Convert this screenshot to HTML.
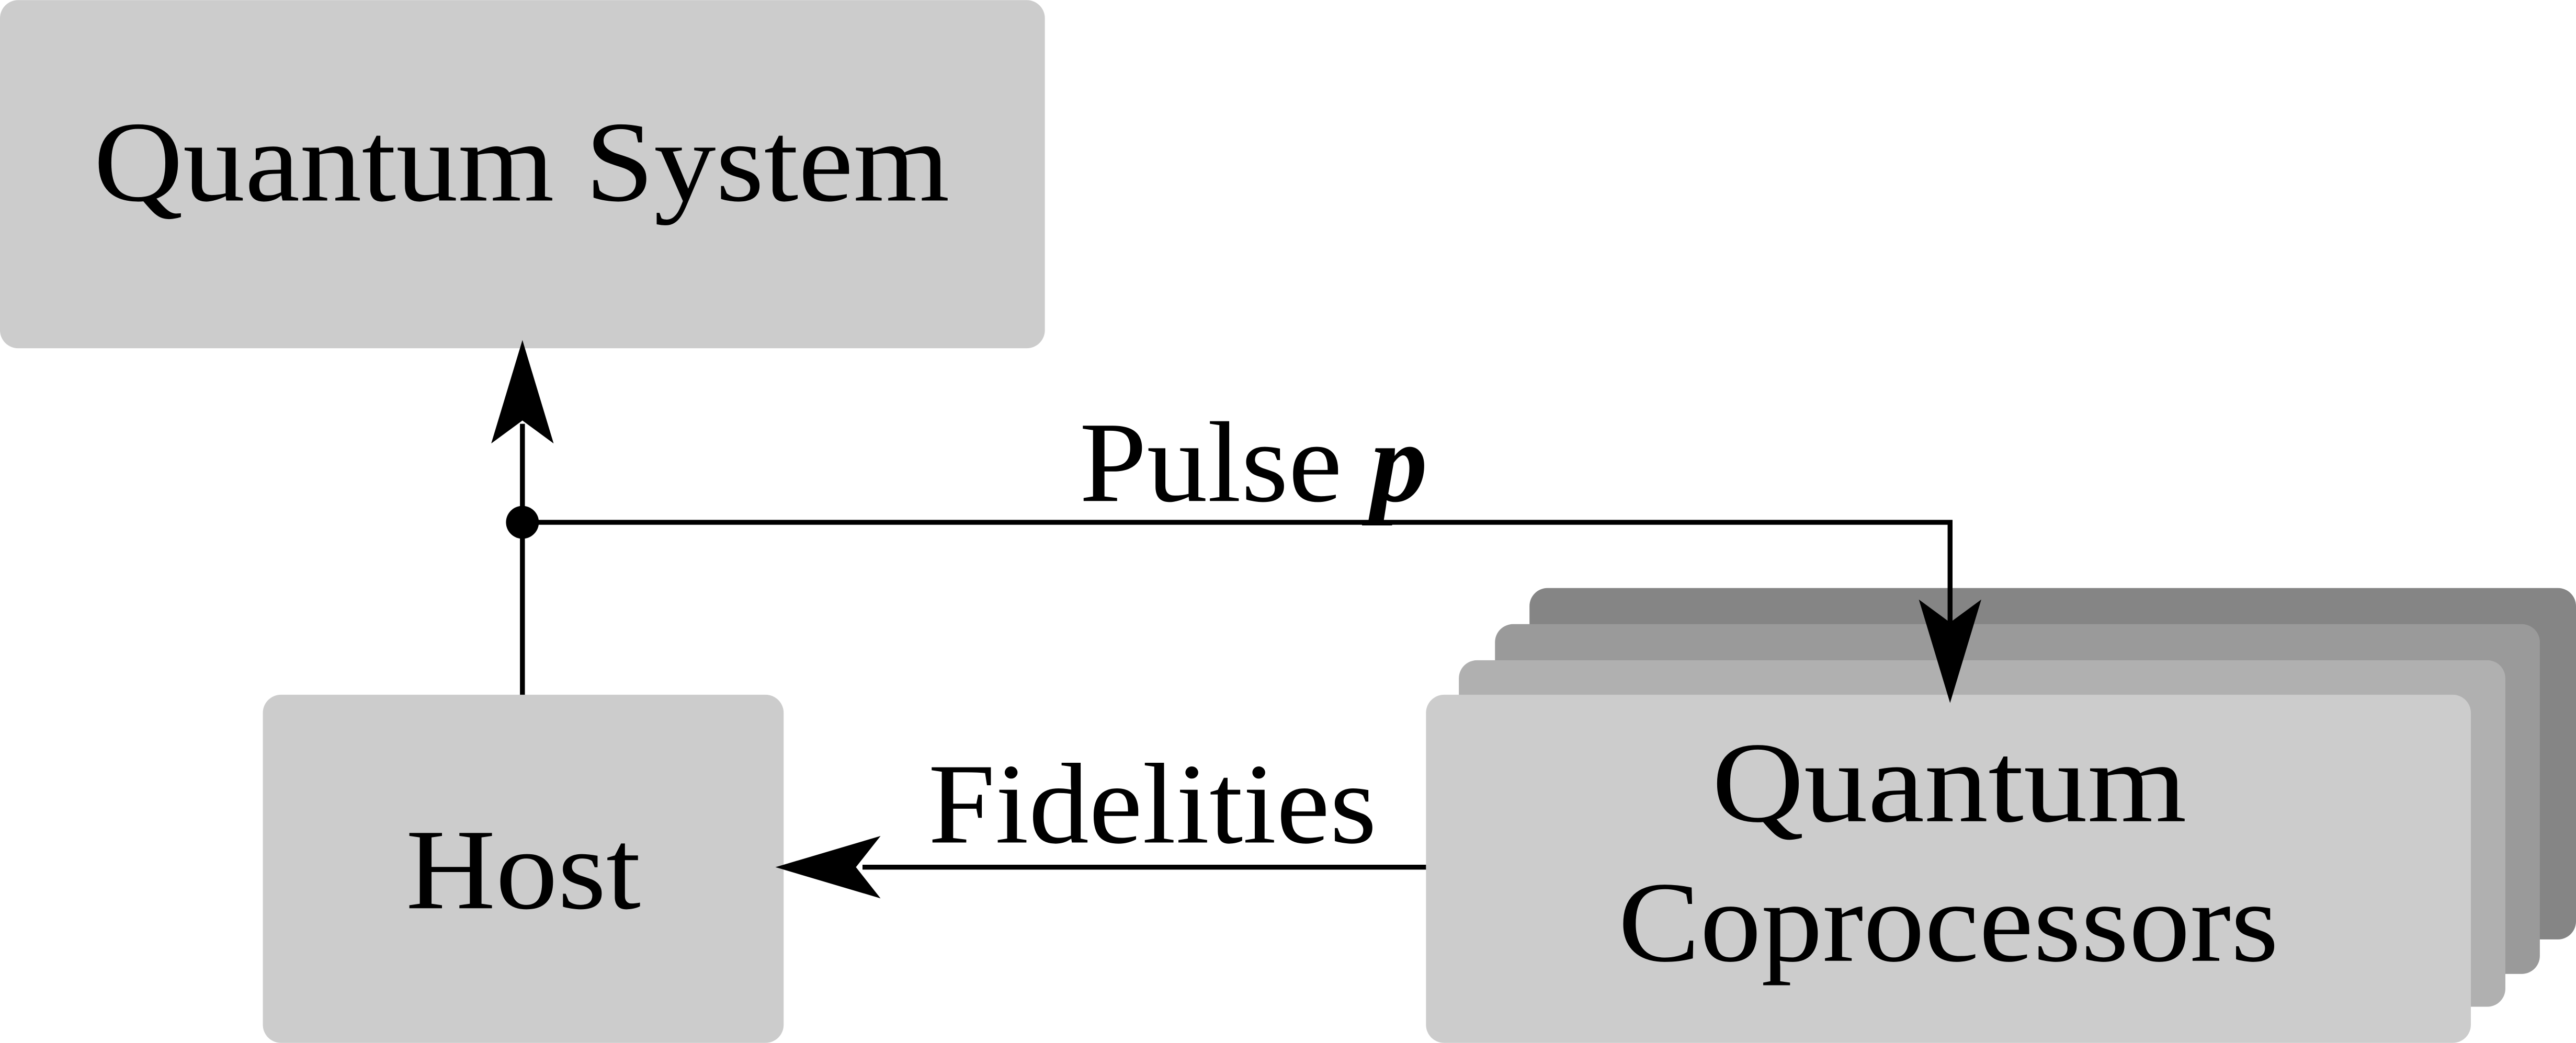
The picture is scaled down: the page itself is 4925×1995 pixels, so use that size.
<!DOCTYPE html>
<html><head><meta charset="utf-8"><style>
html,body{margin:0;padding:0;background:#fff;}
svg{display:block;}
text{font-family:"Liberation Serif",serif;fill:#000;}
</style></head><body>
<svg width="4925" height="1995" viewBox="0 0 1568 635" xmlns="http://www.w3.org/2000/svg">
<rect x="0" y="0" width="1568" height="635" fill="#fff"/>
<!-- Quantum System -->
<rect x="0" y="0" width="636" height="212" rx="11" fill="#cccccc"/>
<text x="57" y="122" font-size="70" textLength="521" lengthAdjust="spacingAndGlyphs">Quantum System</text>
<!-- Host -->
<rect x="160" y="423" width="317" height="212" rx="11" fill="#cccccc"/>
<text x="247" y="553" font-size="70" textLength="143" lengthAdjust="spacingAndGlyphs">Host</text>
<!-- stack -->
<rect x="931" y="358" width="637" height="214" rx="11" fill="#858585"/>
<rect x="910" y="380" width="636" height="213" rx="11" fill="#9a9a9a"/>
<rect x="888" y="402" width="637" height="211" rx="11" fill="#b0b0b0"/>
<rect x="868" y="423" width="636" height="212" rx="11" fill="#cccccc"/>
<text x="1042" y="500" font-size="70" textLength="289" lengthAdjust="spacingAndGlyphs">Quantum</text>
<text x="985" y="585" font-size="70" textLength="402" lengthAdjust="spacingAndGlyphs">Coprocessors</text>
<!-- lines -->
<g stroke="#000" stroke-width="3" fill="none">
<line x1="318" y1="423" x2="318" y2="258"/>
<polyline points="318,318 1187,318 1187,385"/>
<line x1="868" y1="528" x2="525" y2="528"/>
</g>
<circle cx="318" cy="318" r="10" fill="#000"/>
<polygon points="318,207 337,270 318,256 299,270" fill="#000"/>
<polygon points="1187,428 1168,365 1187,379 1206,365" fill="#000"/>
<polygon points="472,528 536,509 521,528 536,547" fill="#000"/>
<text x="657" y="305" font-size="70" textLength="160" lengthAdjust="spacingAndGlyphs">Pulse</text>
<text x="834" y="305" font-size="70" font-weight="bold" font-style="italic">p</text>
<text x="565" y="513" font-size="70" textLength="273" lengthAdjust="spacingAndGlyphs">Fidelities</text>
</svg>
</body></html>
